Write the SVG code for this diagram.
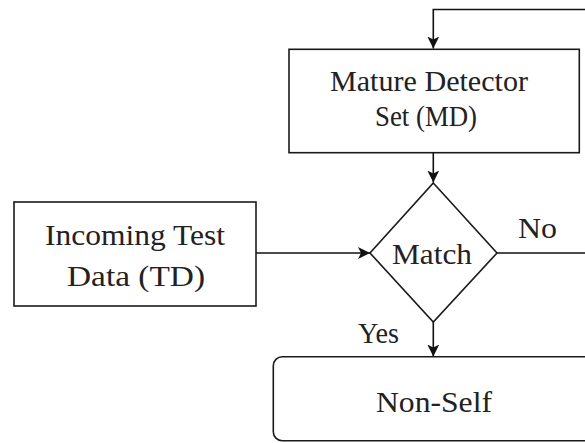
<svg xmlns="http://www.w3.org/2000/svg" width="585" height="443" viewBox="0 0 585 443">
  <style>
    .box { fill: #ffffff; stroke: #1a1a1a; stroke-width: 1.6; }
    .edge { fill: none; stroke: #111111; stroke-width: 1.6; }
    .lbl { font-family: "Liberation Serif", "Times New Roman", serif; font-size: 30px; fill: #222222; }
    .mid { text-anchor: middle; }
  </style>
  <defs>
    <marker id="arrow" viewBox="0 0 12 12" refX="12" refY="6" markerWidth="12" markerHeight="12" markerUnits="userSpaceOnUse" orient="auto">
      <path d="M0,0 L12,6 L0,12 L3,6 z" fill="#111111"/>
    </marker>
  </defs>
  <rect width="585" height="443" fill="#ffffff"/>

  <g id="connectors">
    <!-- feedback line entering the detector set from the right -->
    <path class="edge" d="M585,9.5 H433.3 V48.5" marker-end="url(#arrow)"/>
    <!-- detector set to decision -->
    <path class="edge" d="M433.3,152.7 V182.5" marker-end="url(#arrow)"/>
    <!-- test data to decision -->
    <path class="edge" d="M256,253 H370" marker-end="url(#arrow)"/>
    <!-- decision: no branch -->
    <path class="edge" d="M497,253 H585"/>
    <!-- decision: yes branch -->
    <path class="edge" d="M433.3,322 V356.5" marker-end="url(#arrow)"/>
    <text class="lbl" x="518" y="238" textLength="39" lengthAdjust="spacingAndGlyphs">No</text>
    <text class="lbl" x="358" y="343" textLength="41" lengthAdjust="spacingAndGlyphs">Yes</text>
  </g>

  <g id="mature-detector-set">
    <rect class="box" x="289" y="49.3" width="290.3" height="103.4"/>
    <text class="lbl mid" x="429" y="91" textLength="198" lengthAdjust="spacingAndGlyphs">Mature Detector</text>
    <text class="lbl mid" x="426" y="126" textLength="102" lengthAdjust="spacingAndGlyphs">Set (MD)</text>
  </g>

  <g id="incoming-test-data">
    <rect class="box" x="14" y="202" width="242" height="104"/>
    <text class="lbl mid" x="135" y="245" textLength="180" lengthAdjust="spacingAndGlyphs">Incoming Test</text>
    <text class="lbl mid" x="136" y="286" textLength="138" lengthAdjust="spacingAndGlyphs">Data (TD)</text>
  </g>

  <g id="match">
    <polygon class="box" points="433.3,183 497,253 433.3,322 370,253"/>
    <text class="lbl mid" x="432" y="264" textLength="80" lengthAdjust="spacingAndGlyphs">Match</text>
  </g>

  <g id="non-self">
    <rect class="box" x="273.3" y="356.7" width="340" height="84" rx="9" ry="9"/>
    <text class="lbl mid" x="434" y="412" textLength="116" lengthAdjust="spacingAndGlyphs">Non-Self</text>
  </g>
</svg>
